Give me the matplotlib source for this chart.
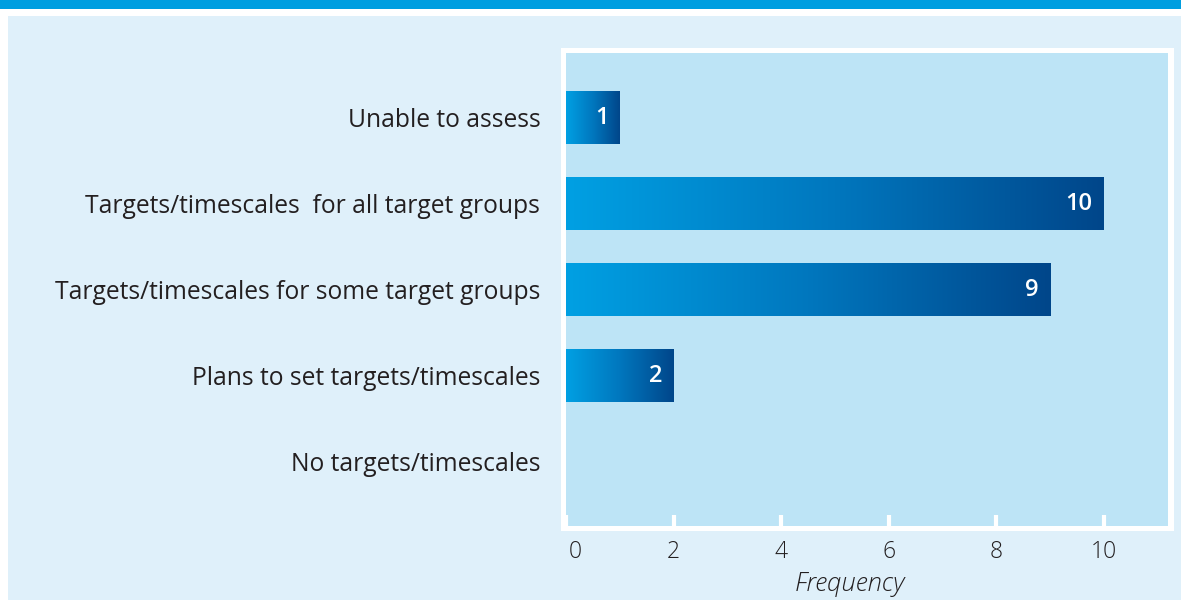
import matplotlib
matplotlib.use("Agg")
import matplotlib.pyplot as plt
from matplotlib.patches import Rectangle
from matplotlib.colors import LinearSegmentedColormap
from matplotlib.transforms import ScaledTranslation
import numpy as np

# data, top row first
categories = ["Unable to assess",
              "Targets/timescales  for all target groups",
              "Targets/timescales for some target groups",
              "Plans to set targets/timescales",
              "No targets/timescales"]
counts = [1, 10, 9, 2, 0]
xticks = [0, 2, 4, 6, 8, 10]

W, H = 1181, 600
band_col = "#009EE0"
panel_col = "#DFF0FA"
plot_col = "#BDE4F6"
text_col = "#231F20"
grad = LinearSegmentedColormap.from_list("bar", ["#00A0E3", "#0077BE", "#00468A"])

plt.rcParams['font.family'] = ['Open Sans', 'DejaVu Sans']

fig = plt.figure(figsize=(W / 100, H / 100), dpi=100)
fig.patch.set_facecolor("white")

# background pieces (pixel boxes -> figure fraction)
def fig_rect(x0, y0, x1, y1, col, z):
    fig.patches.append(Rectangle((x0 / W, 1 - y1 / H), (x1 - x0) / W, (y1 - y0) / H,
                                 transform=fig.transFigure, facecolor=col,
                                 edgecolor="none", zorder=z))

fig_rect(0, 0, W, 9, band_col, -10)
fig_rect(8, 16, W, H, panel_col, -10)
fig_rect(561, 48, 1174, 531, "white", -9)

ax = fig.add_axes([566 / W, 1 - 526 / H, (1168 - 566) / W, (526 - 53) / H])
ax.set_facecolor(plot_col)
for s in ax.spines.values():
    s.set_visible(False)

y = np.arange(len(categories))
bars = ax.barh(y, counts, height=0.62, color="none", edgecolor="none")

g = np.linspace(0, 1, 256).reshape(1, -1)
for b, v in zip(bars, counts):
    if v <= 0:
        continue
    x0, y0 = b.get_x(), b.get_y()
    im = ax.imshow(g, cmap=grad, aspect="auto", interpolation="bicubic",
                   extent=(x0, x0 + b.get_width(), y0 + b.get_height(), y0), zorder=2)
    im.set_clip_path(b)
    ax.text(v - 0.21, b.get_y() + b.get_height() / 2, str(v), ha="right", va="center",
            color="white", fontsize=17, fontweight="semibold", zorder=3)

ax.set_xlim(0, 11.19)
ax.set_ylim(len(categories) - 1 + 0.75, -0.75)

ax.set_yticks(y)
ax.set_yticklabels(categories, fontsize=17.7, color=text_col)
ax.tick_params(axis="y", length=0, pad=18.5)

ax.set_xticks(xticks)
ax.set_xticklabels([str(t) for t in xticks], fontsize=16.5, color=text_col, fontweight="light")
ax.tick_params(axis="x", direction="in", length=8, width=3, color="white", pad=10)
lbl0 = ax.get_xticklabels()[0]
lbl0.set_transform(lbl0.get_transform() + ScaledTranslation(0.09, 0, fig.dpi_scale_trans))

ax.set_xlabel("Frequency", fontsize=18.5, style="italic", color=text_col,
              fontweight="light")
ax.xaxis.set_label_coords((850 - 566) / (1168 - 566), -0.098)

fig.savefig("out.png", dpi=100, facecolor=fig.get_facecolor())
